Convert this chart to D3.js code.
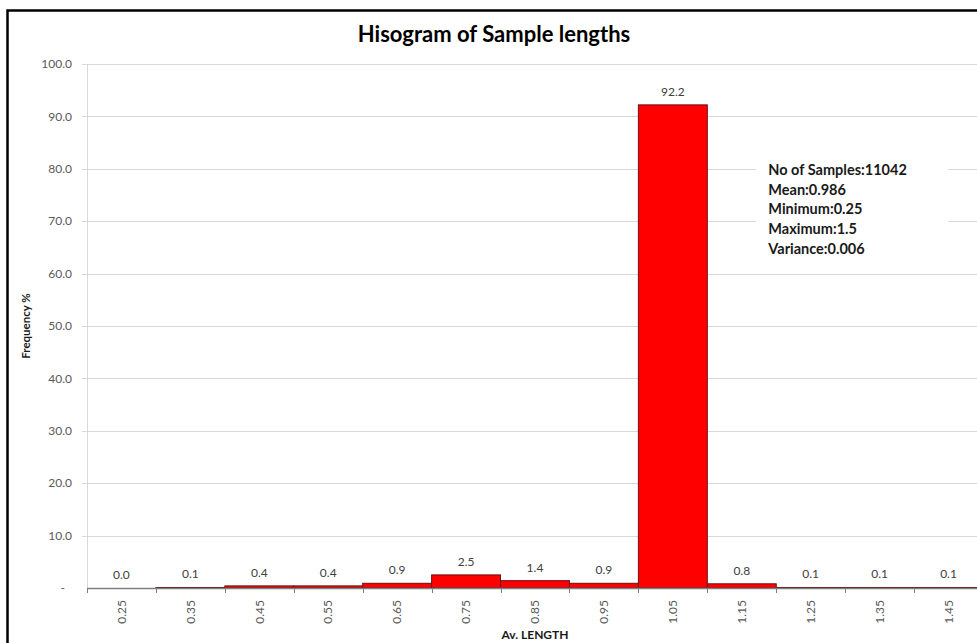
<!DOCTYPE html>
<html>
<head>
<meta charset="utf-8">
<script src="https://cdn.jsdelivr.net/npm/d3@7"></script>
<style>
  body { margin: 0; background: #fff; }
  text { font-family: Lato, "Open Sans", sans-serif; }
</style>
</head>
<body>
<div class="chart"></div>
<script>
var svgWidth = 977;
var svgHeight = 643;

// data
var bins = ["0.25", "0.35", "0.45", "0.55", "0.65", "0.75", "0.85", "0.95", "1.05", "1.15", "1.25", "1.35", "1.45"];
var freq = [0.0, 0.1, 0.4, 0.4, 0.9, 2.5, 1.4, 0.9, 92.2, 0.8, 0.1, 0.1, 0.1];
var yTicks = [0, 10, 20, 30, 40, 50, 60, 70, 80, 90, 100];
var stats = ["No of Samples:11042", "Mean:0.986", "Minimum:0.25", "Maximum:1.5", "Variance:0.006"];

var margin = { top: 64, left: 87 };
var plotW = 896;
var plotH = 524;

var barColor = "#ff0000";
var barStroke = "#6b1010";
var gridColor = "#d9d9d9";
var tickText = "#595959";

var $svg = d3.select(".chart")
    .append("svg")
    .attr("width", svgWidth)
    .attr("height", svgHeight);

// outer frame (right and bottom edges run off the picture)
$svg.append("rect")
    .attr("x", 7.5).attr("y", 10.5)
    .attr("width", 1020).attr("height", 680)
    .attr("fill", "#fff")
    .attr("stroke", "#000")
    .attr("stroke-width", 2.5);

$svg.append("text")
    .attr("x", 494).attr("y", 42)
    .attr("text-anchor", "middle")
    .style("font-size", "22px")
    .style("font-weight", "bold")
    .attr("fill", "#000")
    .text("Hisogram of Sample lengths");

var $g = $svg.append("g")
    .attr("transform", `translate(${margin.left}, ${margin.top})`);

var xScale = d3.scaleBand()
    .domain(bins)
    .range([0, plotW])
    .padding(0);

var yScale = d3.scaleLinear()
    .domain([0, 100])
    .range([plotH, 0]);

// gridlines
$g.selectAll(".grid")
    .data(yTicks.filter(d => d > 0))
    .enter()
    .append("line")
    .attr("x1", -5).attr("x2", plotW)
    .attr("y1", d => Math.round(yScale(d)) + 0.5)
    .attr("y2", d => Math.round(yScale(d)) + 0.5)
    .attr("stroke", gridColor);

// y axis line
$g.append("line")
    .attr("x1", 0.5).attr("x2", 0.5)
    .attr("y1", 0).attr("y2", plotH + 5)
    .attr("stroke", gridColor);

// y tick labels
$g.selectAll(".ylab")
    .data(yTicks)
    .enter()
    .append("text")
    .attr("x", d => d === 0 ? -22 : -15)
    .attr("y", d => yScale(d))
    .attr("dy", "0.35em")
    .attr("text-anchor", "end")
    .attr("fill", tickText)
    .style("font-size", "12px")
    .text(d => d === 0 ? "-" : d.toFixed(1));

// stats box, white background over the gridlines
var $stats = $g.append("g")
    .attr("transform", `translate(${xScale("1.15")}, 0)`);

$stats.append("rect")
    .attr("x", 49).attr("y", 92)
    .attr("width", 192).attr("height", 112)
    .attr("fill", "#fff");

$stats.selectAll("text")
    .data(stats)
    .enter()
    .append("text")
    .attr("x", 61)
    .attr("y", (d, i) => 106 + i * 19.7)
    .attr("dy", "0.35em")
    .attr("fill", "#1a1a1a")
    .style("font-size", "14.5px")
    .style("font-weight", "bold")
    .text(d => d);

// bars
$g.selectAll(".bar")
    .data(freq)
    .enter()
    .append("rect")
    .attr("class", "bar")
    .attr("x", (d, i) => xScale(bins[i]))
    .attr("y", d => yScale(d))
    .attr("width", xScale.bandwidth())
    .attr("height", d => plotH - yScale(d))
    .attr("fill", barColor)
    .attr("stroke", barStroke)
    .attr("stroke-width", 1);

// value labels
$g.selectAll(".val")
    .data(freq)
    .enter()
    .append("text")
    .attr("x", (d, i) => xScale(bins[i]) + xScale.bandwidth() / 2)
    .attr("y", d => yScale(d) - 9)
    .attr("text-anchor", "middle")
    .attr("fill", "#404040")
    .style("font-size", "12px")
    .text(d => d.toFixed(1));

// x axis
var xAxis = d3.axisBottom(xScale).tickSize(0).tickPadding(0);
var $xAxis = $g.append("g")
    .attr("transform", `translate(0, ${plotH})`)
    .call(xAxis);

$xAxis.select(".domain")
    .attr("stroke", "#7f7f7f")
    .attr("stroke-width", 1.5)
    .attr("d", `M0,0.5H${plotW}`);

$xAxis.selectAll(".tick text")
    .attr("transform", "rotate(-90)")
    .attr("x", -12)
    .attr("y", 0)
    .attr("dy", "0.35em")
    .attr("text-anchor", "end")
    .attr("fill", tickText)
    .style("font-size", "12px")
    .style("font-family", "Lato, 'Open Sans', sans-serif");

// boundary ticks between bins
$xAxis.selectAll(".btick")
    .data(d3.range(bins.length + 1))
    .enter()
    .append("line")
    .attr("x1", i => Math.round(i * xScale.step()) + 0.5)
    .attr("x2", i => Math.round(i * xScale.step()) + 0.5)
    .attr("y1", 0).attr("y2", 5)
    .attr("stroke", "#7f7f7f");

// axis titles
$g.append("text")
    .attr("x", plotW / 2)
    .attr("y", plotH + 51)
    .attr("text-anchor", "middle")
    .style("font-size", "12px")
    .style("font-weight", "bold")
    .attr("fill", "#1a1a1a")
    .text("Av. LENGTH");

$g.append("text")
    .attr("transform", `translate(-57, ${plotH / 2}) rotate(-90)`)
    .attr("text-anchor", "middle")
    .style("font-size", "11.5px")
    .style("font-weight", "bold")
    .attr("fill", "#1a1a1a")
    .text("Frequency %");
</script>
</body>
</html>
